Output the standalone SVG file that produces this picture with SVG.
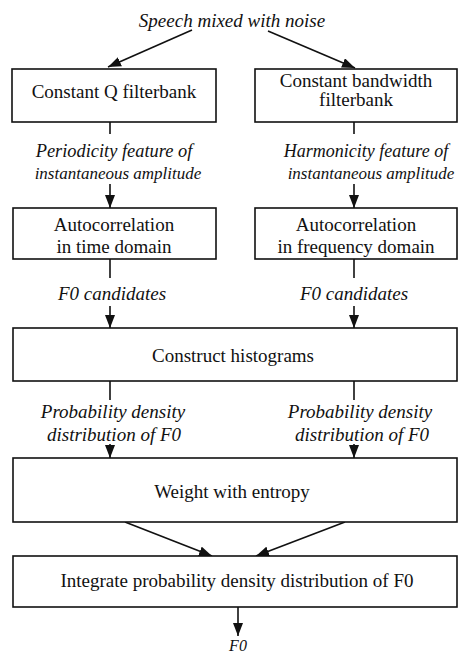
<svg xmlns="http://www.w3.org/2000/svg" width="458" height="654" viewBox="0 0 458 654">
<style>
.box{fill:#fff;stroke:#111;stroke-width:1.6}
.t{font-family:"Liberation Serif","Times New Roman",serif;font-size:19px;fill:#111;text-anchor:middle}
.i{font-style:italic}
.n{font-size:17px}
.c{stroke:#111;stroke-width:1.6;fill:none}
</style>
<defs>
<marker id="ah" markerUnits="userSpaceOnUse" markerWidth="14" markerHeight="10" refX="13" refY="5" orient="auto">
<path d="M0,0 L13,5 L0,10 Z" fill="#111"/>
</marker>
</defs>
<rect width="458" height="654" fill="#fff"/>
<text class="t i" x="232" y="27">Speech mixed with noise</text>
<g id="connectors">
<line class="c" x1="192" y1="30" x2="108" y2="67" marker-end="url(#ah)"/>
<line class="c" x1="268" y1="31" x2="355" y2="68" marker-end="url(#ah)"/>
<line class="c" x1="110" y1="122" x2="110" y2="134"/>
<line class="c" x1="354" y1="122" x2="354" y2="134"/>
<line class="c" x1="110" y1="184" x2="110" y2="208" marker-end="url(#ah)"/>
<line class="c" x1="354" y1="184" x2="354" y2="208" marker-end="url(#ah)"/>
<line class="c" x1="110" y1="259" x2="110" y2="278"/>
<line class="c" x1="354" y1="259" x2="354" y2="278"/>
<line class="c" x1="110" y1="306" x2="110" y2="328" marker-end="url(#ah)"/>
<line class="c" x1="354" y1="306" x2="354" y2="328" marker-end="url(#ah)"/>
<line class="c" x1="110" y1="381" x2="110" y2="400"/>
<line class="c" x1="354" y1="381" x2="354" y2="400"/>
<line class="c" x1="110" y1="444" x2="110" y2="458" marker-end="url(#ah)"/>
<line class="c" x1="354" y1="444" x2="354" y2="458" marker-end="url(#ah)"/>
<line class="c" x1="125" y1="522" x2="212" y2="556" marker-end="url(#ah)"/>
<line class="c" x1="345" y1="522" x2="256" y2="556" marker-end="url(#ah)"/>
<line class="c" x1="238" y1="607" x2="238" y2="636" marker-end="url(#ah)"/>
</g>
<g id="n1"><rect class="box" x="12" y="69" width="204" height="53"/><text class="t" x="114" y="98">Constant Q filterbank</text></g>
<g id="n2"><rect class="box" x="255" y="69" width="202" height="53"/><text class="t" x="356" y="87">Constant bandwidth</text><text class="t" x="356" y="106">filterbank</text></g>
<g id="l1"><text class="t i" x="114" y="157" style="font-size:18.4px">Periodicity feature of</text><text class="t i n" x="118" y="179">instantaneous amplitude</text></g>
<g id="l2"><text class="t i" x="366" y="157" style="font-size:18px">Harmonicity feature of</text><text class="t i n" x="371" y="179">instantaneous amplitude</text></g>
<g id="n3"><rect class="box" x="13" y="208" width="203" height="51"/><text class="t" x="114" y="231">Autocorrelation</text><text class="t" x="114" y="253">in time domain</text></g>
<g id="n4"><rect class="box" x="255" y="208" width="202" height="51"/><text class="t" x="356" y="231">Autocorrelation</text><text class="t" x="356" y="253">in frequency domain</text></g>
<g id="l3"><text class="t i" x="112" y="300">F0 candidates</text></g>
<g id="l4"><text class="t i" x="354" y="300">F0 candidates</text></g>
<g id="n5"><rect class="box" x="13" y="328" width="444" height="53"/><text class="t" x="233" y="362">Construct histograms</text></g>
<g id="l5"><text class="t i" x="113" y="418">Probability density</text><text class="t i" x="114" y="441">distribution of F0</text></g>
<g id="l6"><text class="t i" x="360" y="418">Probability density</text><text class="t i" x="362" y="441">distribution of F0</text></g>
<g id="n6"><rect class="box" x="13" y="458" width="444" height="64"/><text class="t" x="232" y="498">Weight with entropy</text></g>
<g id="n7"><rect class="box" x="13" y="556" width="444" height="51"/><text class="t" x="237" y="587">Integrate probability density distribution of F0</text></g>
<g id="l7"><text class="t i" x="238" y="651" style="font-size:16px">F0</text></g>
</svg>
